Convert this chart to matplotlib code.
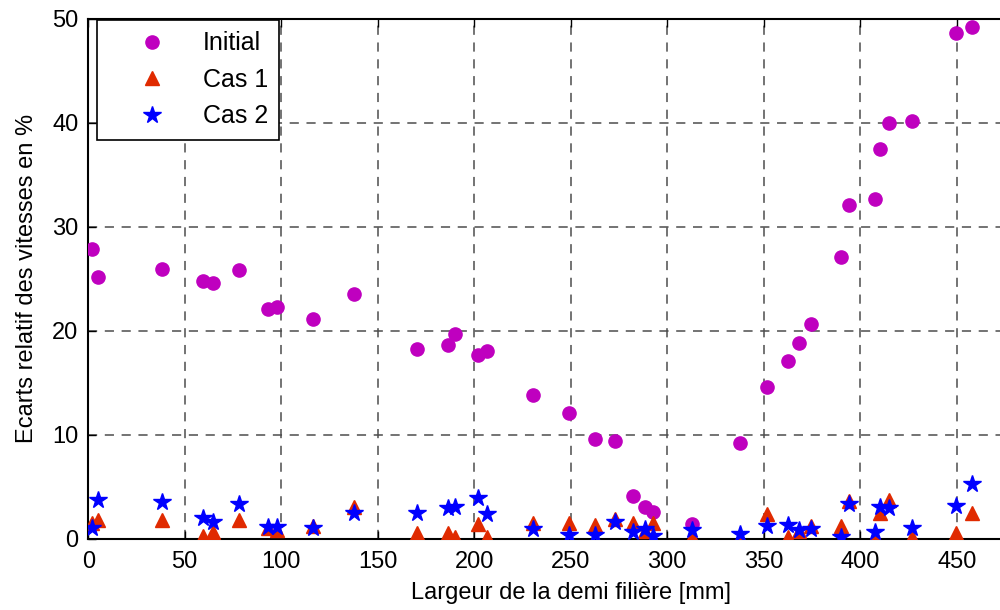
import matplotlib
matplotlib.use("Agg")
import matplotlib.pyplot as plt

plt.rcParams['font.family'] = ['Liberation Sans', 'DejaVu Sans']

x = [2.1, 5.2, 38.4, 59.3, 64.5, 78.0, 93.3, 97.8, 116.3, 137.9,
     170.2, 186.6, 189.9, 202.1, 206.5, 230.3, 249.0, 262.4, 272.8, 282.1,
     288.3, 292.5, 313.0, 337.9, 351.6, 362.8, 368.1, 374.3, 389.9, 394.0,
     407.5, 410.4, 414.8, 427.0, 449.8, 458.1]

initial = [27.9, 25.15, 25.9, 24.8, 24.6, 25.8, 22.1, 22.3, 21.15, 23.5,
           18.27, 18.65, 19.65, 17.7, 18.08, 13.8, 12.1, 9.6, 9.4, 4.1,
           3.08, 2.54, 1.38, 9.2, 14.6, 17.1, 18.85, 20.6, 27.1, 32.1,
           32.65, 37.45, 40.0, 40.15, 48.65, 49.2]

cas1 = [1.48, 1.8, 1.8, 0.26, 0.67, 1.8, 1.0, 0.8, 1.2, 3.08,
        0.58, 0.58, 0.2, 1.38, 0.2, 1.54, 1.54, 1.32, 1.86, 1.48,
        0.7, 1.54, 0.2, 0.1, 2.37, 0.2, 0.7, 1.22, 1.22, 3.65,
        0.2, 2.5, 3.72, 0.2, 0.58, 2.5]

cas2 = [1.0, 3.7, 3.5, 1.96, 1.57, 3.37, 1.15, 1.15, 1.0, 2.44,
        2.44, 2.92, 3.08, 3.94, 2.38, 0.9, 0.36, 0.36, 1.6, 0.67,
        0.9, 0.26, 0.84, 0.45, 1.22, 1.32, 0.84, 0.93, 0.2, 3.34,
        0.67, 3.08, 2.92, 1.0, 3.14, 5.26]

labels = ["Initial", "Cas 1", "Cas 2"]
xticks = [0, 50, 100, 150, 200, 250, 300, 350, 400, 450]
yticks = [0, 10, 20, 30, 40, 50]

W, H = 1000, 610
fig = plt.figure(figsize=(W / 100, H / 100), dpi=100)
left_px, bottom_px, top_px = 88.2, 538.7, 18.7
ppu = 1.93
xmax = 500
ax = fig.add_axes([left_px / W, 1 - bottom_px / H,
                   xmax * ppu / W, (bottom_px - top_px) / H])

ax.plot(x, initial, linestyle='none', marker='o', markersize=9.5,
        color='#BF00BF', markeredgecolor='#BF00BF', label=labels[0], zorder=3)
ax.plot(x, cas1, linestyle='none', marker='^', markersize=9.5,
        color='#E02A00', markeredgecolor='#E02A00', label=labels[1], zorder=4)
ax.plot(x, cas2, linestyle='none', marker='*', markersize=13,
        color='#0000FF', markeredgecolor='#0000FF', label=labels[2], zorder=5)

ax.set_xlim(0, xmax)
ax.set_ylim(0, 50)
ax.set_xticks(xticks)
ax.set_yticks(yticks)
ax.tick_params(direction='in', length=6, width=1, labelsize=17,
               top=True, right=True)
ax.tick_params(axis='x', pad=9)
ax.tick_params(axis='y', pad=7)
ax.grid(True, color='0.3', linestyle=(0, (6, 5)), linewidth=1.1)
ax.set_axisbelow(True)
for s in ax.spines.values():
    s.set_linewidth(1.5)
    s.set_color('black')

ax.set_xlabel("Largeur de la demi filière [mm]", fontsize=17, labelpad=6)
ax.set_ylabel("Ecarts relatif des vitesses en %", fontsize=17, labelpad=10)

leg = ax.legend(loc='upper left', bbox_to_anchor=(96.7 / W, 1 - 20 / H),
                bbox_transform=fig.transFigure, fontsize=18, numpoints=1,
                handlelength=3.5, handletextpad=0.3, borderpad=0.45,
                labelspacing=0.5, fancybox=False, framealpha=1,
                edgecolor='black', borderaxespad=0)
leg.get_frame().set_linewidth(1.2)

fig.savefig("out.png", dpi=100)
